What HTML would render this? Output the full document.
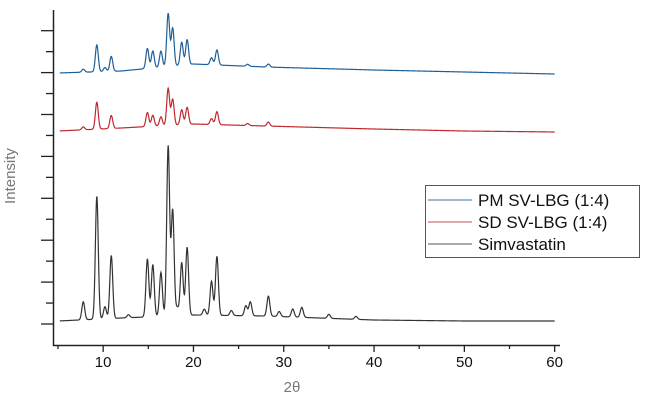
<!DOCTYPE html>
<html><head><meta charset="utf-8"><style>
html,body{margin:0;padding:0;background:#fff;}
svg{display:block;font-family:"Liberation Sans",sans-serif;}
</style></head><body>
<svg id="chart" width="647" height="406" viewBox="0 0 647 406">
<g id="axes"></g>
<g id="series"></g>
<text x="15" y="176" font-size="15" fill="#777" text-anchor="middle" transform="rotate(-90 15 176)">Intensity</text>
<text x="292" y="392" font-size="15" fill="#777" text-anchor="middle">2θ</text>
<g>
<rect x="425.5" y="185.5" width="214" height="72" fill="#fff" stroke="#555" stroke-width="1"/>
<line x1="428" y1="200" x2="472" y2="200" stroke="#3b6f9e" stroke-width="1"/>
<text x="478" y="206" font-size="17" fill="#111">PM SV-LBG (1:4)</text>
<line x1="428" y1="222" x2="472" y2="222" stroke="#c05050" stroke-width="1"/>
<text x="478" y="228" font-size="17" fill="#111">SD SV-LBG (1:4)</text>
<line x1="428" y1="244" x2="472" y2="244" stroke="#555" stroke-width="1"/>
<text x="478" y="250" font-size="17" fill="#111">Simvastatin</text>
</g>
</svg>
<script>
// x ticks
const xTicks = [10, 20, 30, 40, 50, 60];
// Simvastatin peaks
const simPos = [7.8, 9.3, 10.2, 10.9, 12.8, 14.9, 15.5, 16.4, 17.2, 17.7, 18.2, 18.7, 19.3, 21.2, 22.0, 22.6, 24.2, 25.8, 26.3, 28.3, 29.5, 31.0, 32.0, 35.0, 38.0];
const simInt = [18, 123, 12, 63, 3, 58, 52, 44, 170, 106, 8, 53, 68, 6, 34, 59, 5, 10, 14, 20, 5, 8, 10, 4, 3];
const simBase = [321, 318, 315, 316, 320, 321, 321];
// SD SV-LBG peaks
const sdPos = [7.8, 9.3, 10.9, 14.9, 15.5, 16.4, 17.2, 17.7, 18.7, 19.3, 22.0, 22.6, 26.0, 28.3];
const sdInt = [3, 27, 13, 14, 11, 9, 37, 26, 15, 17, 6, 13, 2, 4];
const sdBase = [131, 128, 124, 126, 129, 131, 132];
// PM SV-LBG peaks
const pmPos = [7.8, 9.3, 10.2, 10.9, 14.9, 15.5, 16.4, 17.2, 17.7, 18.7, 19.3, 22.0, 22.6, 26.0, 28.3];
const pmInt = [3, 27, 4, 15, 20, 17, 16, 53, 38, 23, 25, 7, 15, 2, 3];
const pmBase = [73, 71, 64, 67, 70, 72, 74];
// baseline knots at 2θ
const baseAt = [5, 12, 20, 28, 40, 50, 60];

const NS = "http://www.w3.org/2000/svg";
const xS = v => 58 + (v - 5) * 9.03;
const yS = (base, v) => base - v;
const axes = document.getElementById('axes');
const series = document.getElementById('series');
function mk(tag, attrs, parent){const e=document.createElementNS(NS,tag);for(const k in attrs)e.setAttribute(k,attrs[k]);parent.appendChild(e);return e;}

let ax = mk('path', {d:'M53.5,10 V345.5 H560', stroke:'#222', 'stroke-width':1.5, fill:'none'}, axes);


for (let i = 0; i < 16; i++) {
  const y = 324 - i * 20.95;
  if (y < 12) break;
  const major = i % 2 === 0;
  const t = mk('line', {x1: major ? 41 : 46, x2: 53, y1: y, y2: y, stroke:'#222', 'stroke-width':1.3}, axes);
  
  
}
for (let v = 5; v <= 60; v += 5) {
  const x = xS(v);
  const major = v % 10 === 0;
  const t = mk('line', {x1:x, x2:x, y1:345, y2: major ? 352 : 349, stroke:'#222', 'stroke-width':1.3}, axes);
  
  
}
xTicks.forEach(v => {
  const t = mk('text', {x: xS(v), y: 367, 'font-size': 15, 'text-anchor':'middle', fill:'#111'}, axes);
  t.textContent = v;
  
  
});

function baseline(base, x){
  for (let i = 0; i < baseAt.length - 1; i++) {
    if (x <= baseAt[i+1]) { const f = (x - baseAt[i])/(baseAt[i+1]-baseAt[i]); return base[i] + f*(base[i+1]-base[i]); }
  }
  return base[base.length-1];
}
function drawSeries(pos, ints, base, color, name){
  let d = '';
  for (let x = 5.2; x <= 60.001; x += 0.04) {
    let v = 0;
    for (let i = 0; i < pos.length; i++) { const s = 0.16; v += ints[i] * Math.exp(-((x-pos[i])**2)/(2*s*s)); }
    const y = yS(baseline(base, x), v);
    d += (d ? 'L' : 'M') + xS(x).toFixed(2) + ',' + y.toFixed(2);
  }
  const p = mk('path', {d, stroke: color, 'stroke-width': 1.2, fill: 'none'}, series);
  
  
}
drawSeries(simPos, simInt, simBase, '#333', 'simvastatin-line');
drawSeries(sdPos, sdInt, sdBase, '#c0282e', 'sd-sv-lbg-line');
drawSeries(pmPos, pmInt, pmBase, '#1f5f99', 'pm-sv-lbg-line');
</script>
</body></html>
